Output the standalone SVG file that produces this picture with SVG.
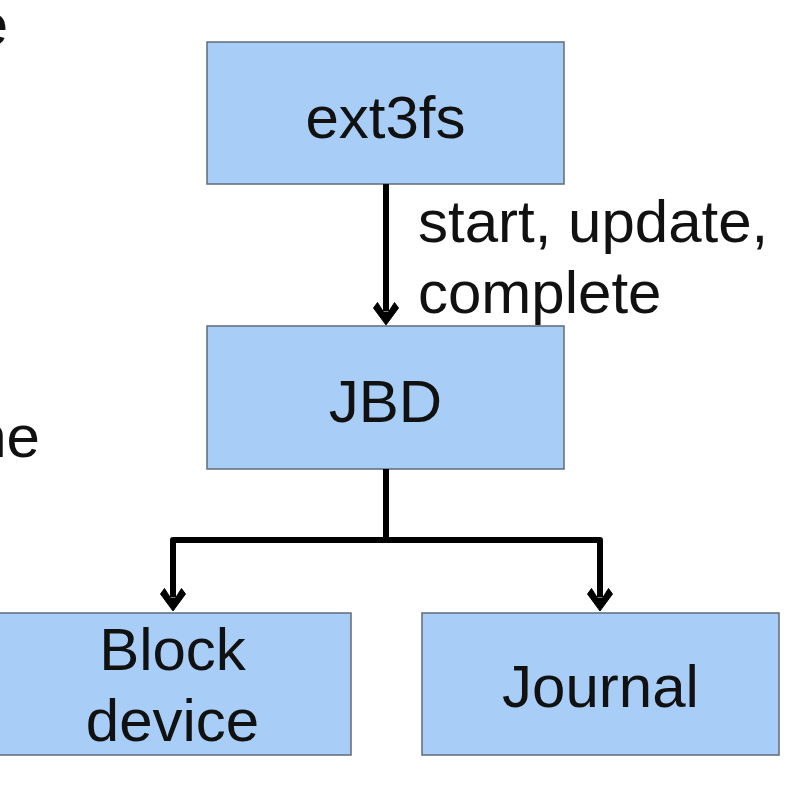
<svg xmlns="http://www.w3.org/2000/svg" width="790" height="794" viewBox="0 0 790 794">
<style>
.box{fill:#a8cdf6;stroke:#5f6b78;stroke-width:1.5}
.t{font-family:"Liberation Sans",Arial,sans-serif;font-size:60px;fill:#111}
.c{fill:none;stroke:#000;stroke-width:6;stroke-linejoin:round}
</style>
<defs>
<marker id="ah" viewBox="-24 -14 25 28" refX="-14" refY="0" markerWidth="25" markerHeight="28" orient="auto" markerUnits="userSpaceOnUse">
<path d="M0,0 L-17,-12.5 L-22.5,-8.5 L-13,-2.5 L-13,2.5 L-22.5,8.5 L-17,12.5 Z" fill="#000" stroke="#000" stroke-width="1" stroke-linejoin="round"/>
</marker>
</defs>
<rect width="790" height="794" fill="#fff"/>
<text class="t" x="8" y="45" text-anchor="end">e</text>
<text class="t" x="40" y="457" text-anchor="end">ne</text>
<g id="ext3fs"><rect class="box" x="207" y="42" width="357" height="142"/><text class="t" x="385.5" y="138" text-anchor="middle">ext3fs</text></g>
<g id="jbd"><rect class="box" x="207" y="326" width="357" height="143"/><text class="t" x="385.5" y="422" text-anchor="middle">JBD</text></g>
<g id="block"><rect class="box" x="-6" y="613" width="357" height="142"/><text class="t" x="172.5" y="670" text-anchor="middle">Block</text><text class="t" x="172.5" y="741" text-anchor="middle">device</text></g>
<g id="journal"><rect class="box" x="422" y="613" width="357" height="142"/><text class="t" x="600.5" y="707" text-anchor="middle">Journal</text></g>
<g id="connectors">
<path class="c" d="M386,184 V311" marker-end="url(#ah)"/>
<path class="c" d="M386,469 V540 H173 V597" marker-end="url(#ah)"/>
<path class="c" d="M386,540 H600 V597" marker-end="url(#ah)"/>
<text class="t" x="418" y="242">start, update,</text>
<text class="t" x="418" y="313">complete</text>
</g>
</svg>
